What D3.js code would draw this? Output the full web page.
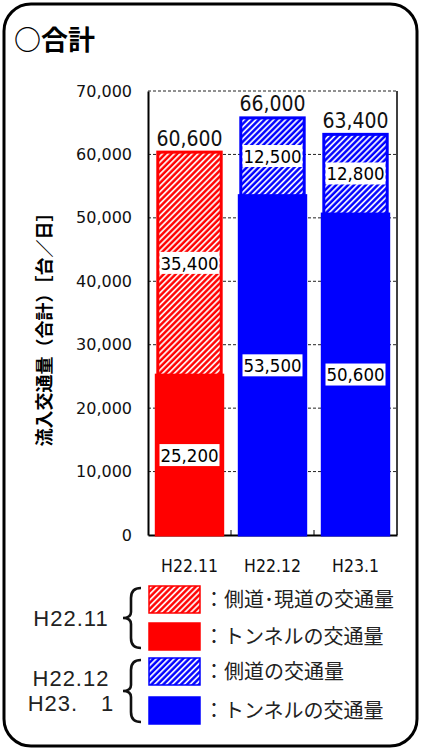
<!DOCTYPE html>
<html>
<head>
<meta charset="utf-8">
<script src="https://cdn.jsdelivr.net/npm/d3@7"></script>
<style>
  body { margin: 0; background: #fff; }
  svg { display: block; }
</style>
</head>
<body>
<svg id="canvas" width="421" height="753"></svg>
<script>
// data
let categories = ["H22.11", "H22.12", "H23.1"]
let tunnel = [25200, 53500, 50600]
let sideRoad = [35400, 12500, 12800]
let totals = [60600, 66000, 63400]
let barColors = ["#ff0000", "#0000ff", "#0000ff"]
let yTicks = [0, 10000, 20000, 30000, 40000, 50000, 60000, 70000]

let legendGroups = ["H22.11", "H22.12\nH23.\u30001"]
let legendItems = [
    { label: "：側道･現道の交通量", color: "#ff0000", hatch: true, group: 0 },
    { label: "：トンネルの交通量", color: "#ff0000", hatch: false, group: 0 },
    { label: "：側道の交通量", color: "#0000ff", hatch: true, group: 1 },
    { label: "：トンネルの交通量", color: "#0000ff", hatch: false, group: 1 }
]

let svg = d3.select("#canvas")
let narrow = "'Liberation Sans Narrow', 'DejaVu Sans Condensed', sans-serif"
let cjk = "'Noto Sans CJK JP', sans-serif"

// hatch patterns
let defs = svg.append("defs")
let makeHatch = (id, color) => {
    let p = defs.append("pattern")
        .attr("id", id)
        .attr("patternUnits", "userSpaceOnUse")
        .attr("width", 4.2)
        .attr("height", 4.2)
        .attr("patternTransform", "rotate(45)")
    p.append("rect").attr("width", 4.2).attr("height", 4.2).attr("fill", color)
    p.append("line")
        .attr("x1", 1).attr("y1", 0).attr("x2", 1).attr("y2", 4.2)
        .attr("stroke", "#ffffff").attr("stroke-width", 1.7)
}
makeHatch("hatch-red", "#ff0000")
makeHatch("hatch-blue", "#0000ff")
let hatchOf = (color) => color === "#ff0000" ? "url(#hatch-red)" : "url(#hatch-blue)"

// frame
svg.append("rect")
    .attr("x", 4).attr("y", 4)
    .attr("width", 413).attr("height", 742)
    .attr("rx", 27)
    .attr("fill", "white")
    .attr("stroke", "black")
    .attr("stroke-width", 3)

svg.append("text")
    .attr("x", 14).attr("y", 50)
    .attr("font-family", cjk)
    .attr("font-weight", "bold")
    .attr("font-size", 27)
    .text("○合計")

// scales
let plotLeft = 148, plotRight = 397, plotTop = 91, plotBottom = 535
let x = d3.scaleBand().domain(categories).range([plotLeft, plotRight]).paddingInner(0.2).paddingOuter(0.1)
let y = d3.scaleLinear().domain([0, 70000]).range([plotBottom, plotTop])

// grid lines
svg.append("g")
    .selectAll("line")
    .data(yTicks.filter(t => t > 0))
    .enter()
    .append("line")
    .attr("x1", plotLeft).attr("x2", plotRight)
    .attr("y1", d => y(d)).attr("y2", d => y(d))
    .attr("stroke", "#222")
    .attr("stroke-width", 1)
    .attr("stroke-dasharray", "3,2")

// y axis
let yAxis = svg.append("g")
    .attr("transform", `translate(${plotLeft},0)`)
    .call(d3.axisLeft(y).tickValues(yTicks).tickSize(0).tickPadding(16).tickFormat(d3.format(",")))
yAxis.select(".domain").attr("stroke", "black").attr("stroke-width", 2)
yAxis.selectAll("text")
    .attr("font-family", "'DejaVu Sans', sans-serif")
    .attr("font-size", 16)
    .attr("fill", "#111")

// right border
svg.append("line")
    .attr("x1", plotRight).attr("x2", plotRight)
    .attr("y1", plotTop).attr("y2", plotBottom)
    .attr("stroke", "black").attr("stroke-width", 1.5)

// x axis
let xAxis = svg.append("g")
    .attr("transform", `translate(0,${plotBottom})`)
    .call(d3.axisBottom(x).tickSize(0).tickPadding(25))
xAxis.select(".domain").attr("stroke", "black").attr("stroke-width", 2)
xAxis.selectAll("text")
    .attr("font-family", "'DejaVu Sans Condensed', sans-serif")
    .attr("font-size", 17.5)
    .attr("fill", "#111")

// small ticks between categories
svg.append("g")
    .selectAll("line")
    .data(categories.slice(1))
    .enter()
    .append("line")
    .attr("x1", d => x(d) - x.step() * x.paddingInner() / 2)
    .attr("x2", d => x(d) - x.step() * x.paddingInner() / 2)
    .attr("y1", plotBottom).attr("y2", plotBottom - 5)
    .attr("stroke", "black").attr("stroke-width", 1)

// y title
svg.append("text")
    .attr("transform", "translate(51,325) rotate(-90)")
    .attr("text-anchor", "middle")
    .attr("font-family", cjk)
    .attr("font-weight", "bold")
    .attr("font-size", 18)
    .text("流入交通量（合計）［台／日］")

// bars
let bars = svg.append("g")
    .selectAll("g")
    .data(categories)
    .enter()
    .append("g")

bars.append("rect")
    .attr("x", d => x(d))
    .attr("width", x.bandwidth())
    .attr("y", (d, i) => y(tunnel[i]))
    .attr("height", (d, i) => y(0) - y(tunnel[i]))
    .attr("fill", (d, i) => barColors[i])
    .attr("stroke", (d, i) => barColors[i])
    .attr("stroke-width", 3)

bars.append("rect")
    .attr("x", d => x(d) + 1.5)
    .attr("width", x.bandwidth() - 3)
    .attr("y", (d, i) => y(tunnel[i] + sideRoad[i]) + 1.5)
    .attr("height", (d, i) => y(tunnel[i]) - y(tunnel[i] + sideRoad[i]) - 1.5)
    .attr("fill", (d, i) => hatchOf(barColors[i]))
    .attr("stroke", (d, i) => barColors[i])
    .attr("stroke-width", 3)

// segment value labels
let segLabel = (vals, base) => {
    let g = bars.append("g")
        .attr("transform", (d, i) => {
            let b = base(i)
            return `translate(${x(d) + x.bandwidth() / 2},${y(b + vals[i] / 2)})`
        })
    g.append("rect")
        .attr("x", -30).attr("y", -11)
        .attr("width", 60).attr("height", 22)
        .attr("fill", "white")
    g.append("text")
        .attr("text-anchor", "middle")
        .attr("dy", "0.36em")
        .attr("font-family", narrow)
        .attr("font-size", 18.5)
        .text((d, i) => d3.format(",")(vals[i]))
}
segLabel(tunnel, i => 0)
segLabel(sideRoad, i => tunnel[i])

// totals
bars.append("text")
    .attr("x", d => x(d) + x.bandwidth() / 2)
    .attr("y", (d, i) => y(totals[i]) - 5)
    .attr("text-anchor", "middle")
    .attr("font-family", "'DejaVu Sans Condensed', sans-serif")
    .attr("font-size", 21)
    .attr("fill", "#111")
    .text((d, i) => d3.format(",")(totals[i]))

// legend
let rowY = [586, 623, 658, 697]
let legend = svg.append("g")
legend.selectAll("rect")
    .data(legendItems)
    .enter()
    .append("rect")
    .attr("x", 149).attr("y", (d, i) => rowY[i])
    .attr("width", 51).attr("height", 27)
    .attr("fill", d => d.hatch ? hatchOf(d.color) : d.color)
    .attr("stroke", d => d.color)
    .attr("stroke-width", 1.5)

legend.selectAll("text.item")
    .data(legendItems)
    .enter()
    .append("text")
    .attr("class", "item")
    .attr("x", 204).attr("y", (d, i) => rowY[i] + 13.5)
    .attr("dy", "0.36em")
    .attr("font-family", cjk)
    .attr("font-size", 20)
    .attr("fill", "#222")
    .text(d => d.label)

// group labels and braces
let groupSpan = legendGroups.map((g, gi) => {
    let rows = legendItems.map((d, i) => i).filter(i => legendItems[i].group === gi)
    return [rowY[rows[0]] + 2, rowY[rows[rows.length - 1]] + 25]
})

legendGroups.forEach((g, gi) => {
    let [y0, y1] = groupSpan[gi]
    let mid = (y0 + y1) / 2
    let lines = g.split("\n")
    lines.forEach((line, li) => {
        svg.append("text")
            .attr("x", 71)
            .attr("y", mid + (li - (lines.length - 1) / 2) * 25)
            .attr("dy", "0.36em")
            .attr("text-anchor", "middle")
            .attr("font-family", "'Liberation Sans', sans-serif")
            .attr("font-size", 22)
            .attr("letter-spacing", 1)
            .attr("fill", "#222")
            .text(line)
    })
    let bx = 131, tip = 123, end = 141
    svg.append("path")
        .attr("d", `M${end},${y0} Q${bx},${y0} ${bx},${y0 + 10} L${bx},${mid - 6} Q${bx},${mid} ${tip},${mid} Q${bx},${mid} ${bx},${mid + 6} L${bx},${y1 - 10} Q${bx},${y1} ${end},${y1}`)
        .attr("fill", "none")
        .attr("stroke", "#111")
        .attr("stroke-width", 2.6)
})
</script>
</body>
</html>
